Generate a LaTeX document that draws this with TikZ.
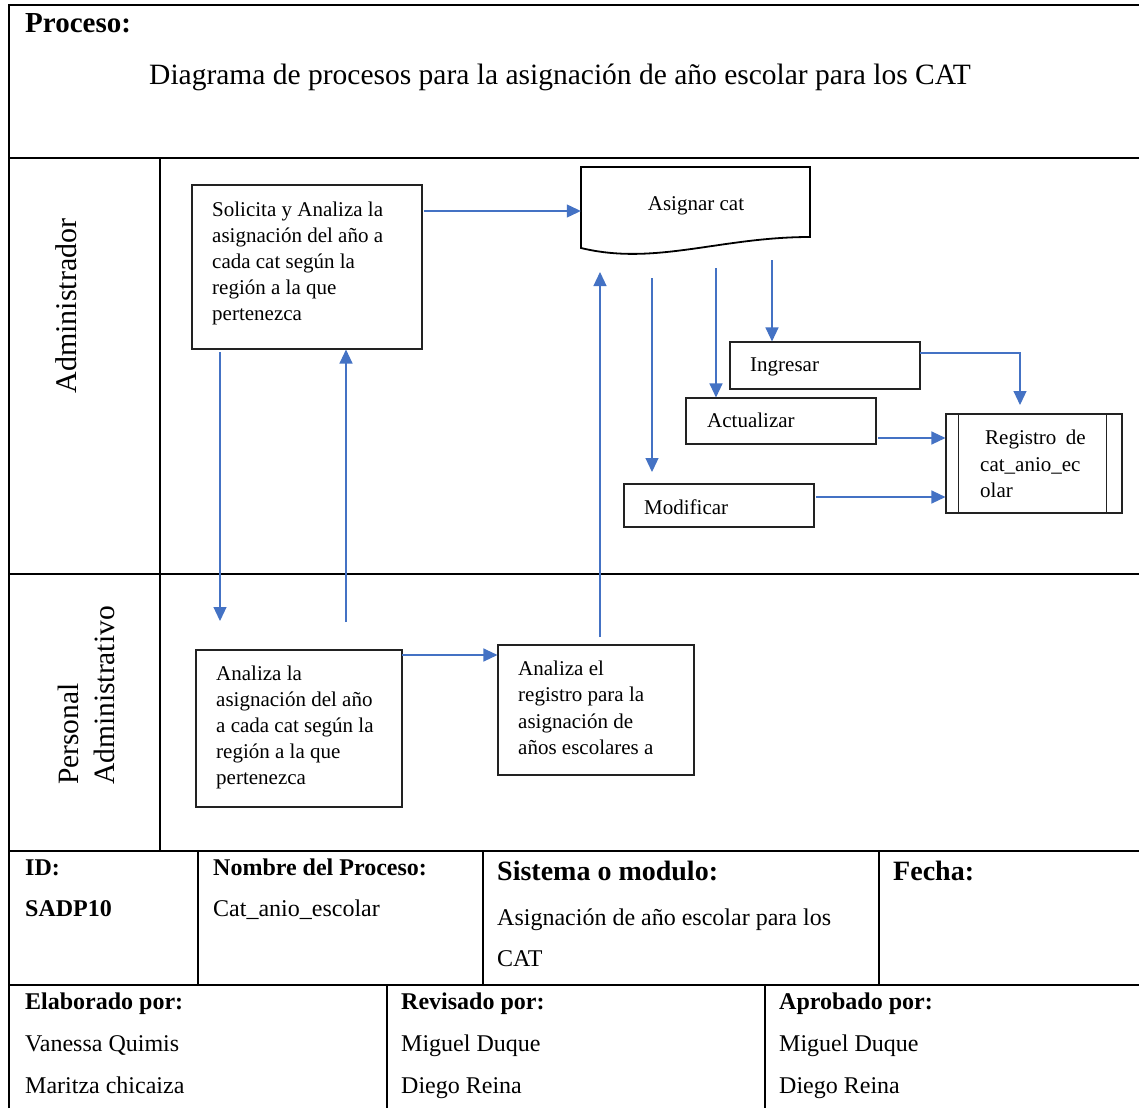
\documentclass[tikz,border=0pt]{standalone}
\usepackage{fontspec}
\setmainfont{Liberation Serif}
\usetikzlibrary{arrows.meta,calc}
\definecolor{arrblue}{HTML}{4472C4}
\definecolor{boxgray}{HTML}{222222}
\begin{document}
\begin{tikzpicture}[x=1pt,y=-1pt,
  frame/.style={line width=2pt,black},
  box/.style={draw=boxgray,line width=1.1pt,rectangle,inner sep=0pt},
  arr/.style={draw=arrblue,line width=1.2pt,-{Triangle[length=14pt,width=13pt]}},
  bt/.style={anchor=base west,inner sep=0pt,font=\fontsize{21}{26}\selectfont},
  tt/.style={anchor=base west,inner sep=0pt,font=\fontsize{24}{28}\selectfont},
  tb/.style={anchor=base west,inner sep=0pt,font=\fontsize{24}{28}\selectfont\bfseries},
  tB/.style={anchor=base west,inner sep=0pt,font=\fontsize{28}{32}\selectfont\bfseries},
  lane/.style={inner sep=0pt,rotate=90,font=\fontsize{30}{34}\selectfont}]
\useasboundingbox (0,0) rectangle (1139,1108);
\fill[white] (0,0) rectangle (1139,1108);

% ---------- frame ----------
\draw[frame] (9,1108) -- (9,5) -- (1139,5);
\draw[frame] (9,158) -- (1139,158);
\draw[frame] (9,574) -- (1139,574);
\draw[frame] (160,158) -- (160,851);
\draw[frame] (9,851) -- (1139,851);
\draw[frame] (9,985) -- (1139,985);
\draw[frame] (198,851) -- (198,985);
\draw[frame] (483,851) -- (483,985);
\draw[frame] (879,851) -- (879,985);
\draw[frame] (387,985) -- (387,1108);
\draw[frame] (765,985) -- (765,1108);

% ---------- header ----------
\node[anchor=base west,inner sep=0pt,font=\fontsize{29}{32}\selectfont\bfseries] (proc) at (25,33) {Proceso:};
\node[anchor=base west,inner sep=0pt,font=\fontsize{29.5}{32}\selectfont] (title) at (149,84) {Diagrama de procesos para la asignación de año escolar para los CAT};

% ---------- lanes ----------
\node[lane] (ladmin) at (66,306) {Administrador};
\node[lane,anchor=west,font=\fontsize{29.5}{34}\selectfont] (lpers1) at (68,785) {Personal};
\node[lane,anchor=west,font=\fontsize{29.5}{34}\selectfont] (lpers2) at (104,785) {Administrativo};

% ---------- boxes ----------
\node[box,minimum width=230pt,minimum height=164pt] (sol) at (307,267) {};
\node[bt] (sol1) at (212,216) {Solicita y Analiza la};
\node[bt] (sol2) at (212,242) {asignación del año a};
\node[bt] (sol3) at (212,268) {cada cat según la};
\node[bt] (sol4) at (212,294) {región a la que};
\node[bt] (sol5) at (212,320) {pertenezca};

\node[inner sep=0pt,minimum width=229pt,minimum height=81pt] (asig) at (695.5,207.5) {};
\draw[black,line width=1.8pt] (581,167) -- (810,167) -- (810,237)
   .. controls (720,237) and (655,266) .. (581,248) -- cycle;
\node[anchor=base,inner sep=0pt,font=\fontsize{21}{26}\selectfont] (asigt) at (696,210) {Asignar cat};

\node[box,minimum width=190pt,minimum height=47pt] (ing) at (825,365.5) {};
\node[bt] (ingt) at (750,371) {Ingresar};
\node[box,minimum width=190pt,minimum height=46pt] (act) at (781,421) {};
\node[bt] (actt) at (707,427) {Actualizar};
\node[box,minimum width=190pt,minimum height=43pt] (mod) at (719,505.5) {};
\node[bt] (modt) at (644,514) {Modificar};

\node[box,minimum width=176pt,minimum height=99pt] (reg) at (1034,463.5) {};
\draw[boxgray,line width=1.1pt] ([xshift=13pt]reg.north west) -- ([xshift=13pt]reg.south west);
\draw[boxgray,line width=1.1pt] ([xshift=-16pt]reg.north east) -- ([xshift=-16pt]reg.south east);
\node[bt] (reg1) at (985,444) {Registro\hspace{0.45em}de};
\node[bt] (reg2) at (980,471) {cat\_anio\_ec};
\node[bt] (reg3) at (980,497) {olar};

\node[box,minimum width=206pt,minimum height=157pt] (anla) at (299,728.5) {};
\node[bt] (anla1) at (216,680) {Analiza la};
\node[bt] (anla2) at (216,706) {asignación del año};
\node[bt] (anla3) at (216,732) {a cada cat según la};
\node[bt] (anla4) at (216,758) {región a la que};
\node[bt] (anla5) at (216,784) {pertenezca};

\node[box,minimum width=196pt,minimum height=130pt] (anel) at (596,710) {};
\node[bt] (anel1) at (518,675) {Analiza el};
\node[bt] (anel2) at (518,701) {registro para la};
\node[bt] (anel3) at (518,728) {asignación de};
\node[bt] (anel4) at (518,754) {años escolares a};

% ---------- connectors ----------
\coordinate (a1s) at (424,211);
\draw[arr] (a1s) -- (a1s -| asig.west);

\coordinate (d1s) at (220,352);
\coordinate (d1e) at (220,621);
\draw[arr] (d1s) -- (d1e);

\coordinate (u1s) at (346,622);
\draw[arr] (u1s) -- (u1s |- sol.south);

\coordinate (h1s) at (402,655);
\draw[arr] (h1s) -- (h1s -| anel.west);

\coordinate (u2s) at (600,637);
\coordinate (u2e) at (600,272);
\draw[arr] (u2s) -- (u2e);

\coordinate (m1s) at (652,278);
\coordinate (m1e) at (652,472);
\draw[arr] (m1s) -- (m1e);
\coordinate (ac1s) at (716,268);
\draw[arr] (ac1s) -- (ac1s |- act.north);
\coordinate (in1s) at (772,260);
\draw[arr] (in1s) -- (in1s |- ing.north);

\coordinate (r1s) at (920,353);
\coordinate (r1c) at (1020,353);
\coordinate (r1e) at (1020,405);
\draw[arr] (r1s) -- (r1c) -- (r1e);
\coordinate (r2s) at (878,438);
\draw[arr] (r2s) -- (r2s -| reg.west);
\coordinate (r3s) at (816,497);
\draw[arr] (r3s) -- (r3s -| reg.west);

% ---------- bottom table ----------
\node[tb] (idl) at (25,875) {ID:};
\node[tb] (idv) at (25,916) {SADP10};
\node[tb] (npl) at (213,875) {Nombre del Proceso:};
\node[tt] (npv) at (213,916) {Cat\_anio\_escolar};
\node[tB] (sml) at (497,880) {Sistema o modulo:};
\node[tt] (smv1) at (497,925) {Asignación de año escolar para los};
\node[tt] (smv2) at (497,966) {CAT};
\node[tB] (fel) at (893,880) {Fecha:};

\node[tb] (ell) at (25,1009) {Elaborado por:};
\node[tt] (elv1) at (25,1051) {Vanessa Quimis};
\node[tt] (elv2) at (25,1093) {Maritza chicaiza};
\node[tb] (rel) at (401,1009) {Revisado por:};
\node[tt] (rev1) at (401,1051) {Miguel Duque};
\node[tt] (rev2) at (401,1093) {Diego Reina};
\node[tb] (apl) at (779,1009) {Aprobado por:};
\node[tt] (apv1) at (779,1051) {Miguel Duque};
\node[tt] (apv2) at (779,1093) {Diego Reina};
\end{tikzpicture}
\end{document}
